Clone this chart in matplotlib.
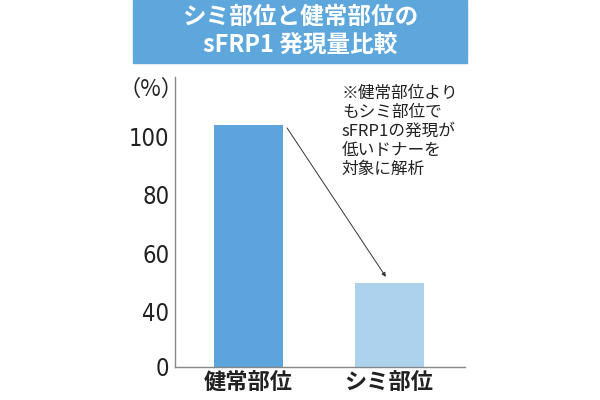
import matplotlib.pyplot as plt
import numpy as np
from matplotlib.patches import Rectangle
from matplotlib import font_manager

categories = ['健常部位', 'シミ部位']
values = [104, 50]
yticks = [0, 40, 60, 80, 100]
title = 'シミ部位と健常部位の\nsFRP1 発現量比較'
note = '※健常部位より\nもシミ部位で\nsFRP1の発現が\n低いドナーを\n対象に解析'

jp = ['Noto Sans CJK JP', 'DejaVu Sans']

# narrow face for the numbers if one is installed
num_font = None
for f in font_manager.fontManager.ttflist:
    if f.style == 'normal' and (f.stretch == 'condensed' or 'Narrow' in f.name
                                or 'Condensed' in f.name):
        if f.weight in (400, 'normal', 'regular'):
            num_font = f
            break
if num_font is not None:
    num_props = font_manager.FontProperties(fname=num_font.fname, size=17)
else:
    num_props = font_manager.FontProperties(family=['Roboto', 'DejaVu Sans'], size=16)


# axis is squeezed between 0 and 40
def fwd(v):
    v = np.asarray(v, dtype=float)
    return np.where(v < 40, v * 1.375, 55 + (v - 40) * 2.925)


def inv(y):
    y = np.asarray(y, dtype=float)
    return np.where(y < 55, y / 1.375, 40 + (y - 55) / 2.925)


fig = plt.figure(figsize=(6, 4), dpi=100)
ax = fig.add_axes([0.2917, 0.0825, 0.4833, 0.725])

x = np.arange(len(categories))
ax.bar(x, values, width=0.49, color=['#5ba4dc', '#acd2ee'])
ax.set_yscale('function', functions=(fwd, inv))
ax.set_ylim(0, 120.3)
ax.set_xlim(-0.523, 1.54)

ax.set_yticks(yticks)
ax.set_yticklabels([str(t) for t in yticks], fontproperties=num_props, color='#222222')
ax.set_xticks(x)
ax.set_xticklabels(categories, family=jp, fontsize=16, fontweight='bold', color='#222222')
ax.tick_params(length=0)
ax.tick_params(axis='y', pad=4)
ax.tick_params(axis='x', pad=3)
ax.yaxis.set_minor_locator(plt.NullLocator())

for side in ['top', 'right']:
    ax.spines[side].set_visible(False)
for side in ['left', 'bottom']:
    ax.spines[side].set_color('#888888')
    ax.spines[side].set_linewidth(1)

ax.annotate('', xy=(0.977, 52), xytext=(0.274, 102.9),
            arrowprops=dict(arrowstyle='-|>', color='#333333', lw=0.7,
                            mutation_scale=6, shrinkA=0, shrinkB=0))

fig.text(342 / 600, 1 - 85 / 400, note, family=jp, fontsize=12, va='top', ha='left',
         color='#222222', linespacing=1.15)
fig.text(151 / 600, 1 - 89 / 400, '（%）', family=jp, fontsize=16, ha='center', va='center',
         color='#222222')

# title banner
fig.patches.append(Rectangle((133 / 600, 1 - 63 / 400), 334 / 600, 63 / 400,
                             transform=fig.transFigure, color='#5ea7dd', zorder=0))
fig.text(0.5, 1 - 31 / 400, title, family=jp, fontsize=17, fontweight='bold', color='white',
         ha='center', va='center', linespacing=1.2)

fig.savefig('out.png', dpi=100)
